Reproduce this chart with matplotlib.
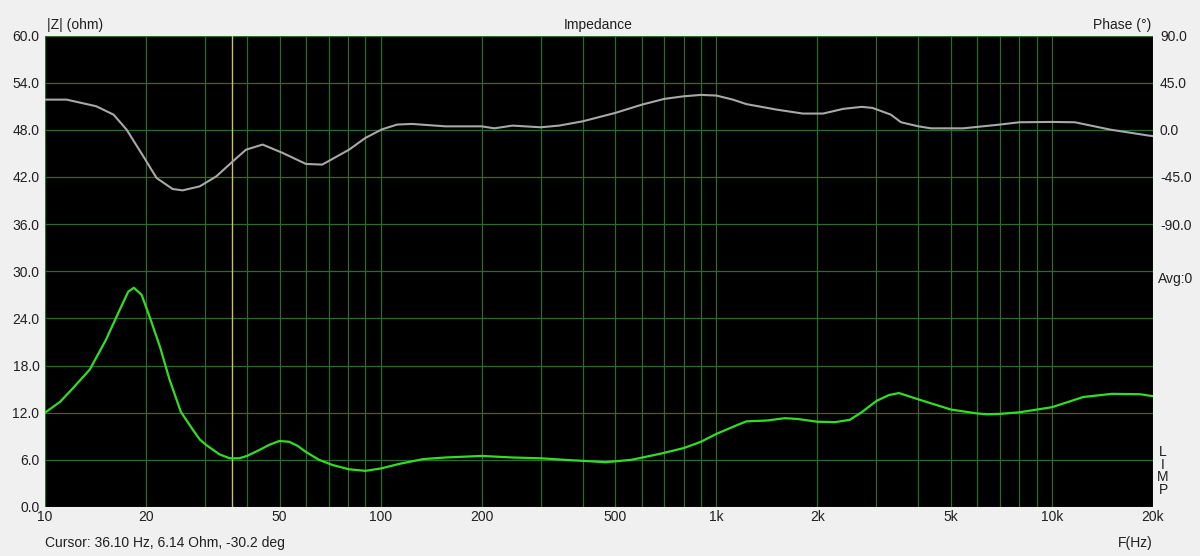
import matplotlib
matplotlib.use("Agg")
import matplotlib.pyplot as plt
from matplotlib.ticker import FixedLocator, FuncFormatter, NullLocator

plt.rcParams['font.family'] = ['Liberation Sans', 'DejaVu Sans']
plt.rcParams['font.size'] = 10

# impedance magnitude (ohm) vs frequency (Hz)
imp_f = [10, 11.1, 12.1, 13.6, 15.2, 16.7, 17.7, 18.4, 19.4, 20.5, 22.0, 23.5, 25.4,
         27.6, 28.9, 30.2, 33.1, 35.5, 37.9, 40, 43.5, 46.5, 49.9, 53.4, 56.5, 59.9,
         65.6, 71.8, 80.5, 90, 100, 114, 134, 156, 200, 247, 300, 354, 428, 468, 558,
         685, 800, 900, 1000, 1150, 1230, 1410, 1600, 1750, 2000, 2260, 2500, 2710,
         3000, 3270, 3500, 4000, 5000, 6000, 6400, 7000, 8000, 10000, 12400, 15100,
         18300, 20000]
imp_z = [12.0, 13.4, 15.1, 17.5, 21.3, 25.1, 27.4, 27.9, 27.0, 24.2, 20.4, 16.2, 12.1,
         9.8, 8.6, 7.9, 6.7, 6.2, 6.2, 6.5, 7.25, 7.9, 8.4, 8.3, 7.8, 7.0,
         6.0, 5.35, 4.8, 4.6, 4.9, 5.5, 6.1, 6.3, 6.5, 6.3, 6.2, 6.0, 5.8, 5.7, 6.0,
         6.8, 7.5, 8.3, 9.3, 10.4, 10.9, 11.0, 11.3, 11.2, 10.85, 10.8, 11.1, 12.05,
         13.5, 14.25, 14.5, 13.7, 12.4, 11.9, 11.8, 11.85, 12.05, 12.7, 14.0, 14.4,
         14.35, 14.1]

# phase (deg) vs frequency (Hz)
ph_f = [10, 11.6, 14.2, 16.0, 17.5, 19.6, 21.5, 24.0, 25.7, 28.9, 32.4, 36.3, 39.7,
        44.5, 51, 59.9, 67, 80.5, 90, 101, 112, 124, 156, 200, 218, 247, 300, 340,
        400, 500, 600, 700, 800, 900, 1000, 1120, 1230, 1510, 1810, 2080, 2390, 2710,
        2920, 3310, 3550, 4000, 4360, 5440, 6000, 7000, 8000, 10000, 11700, 14900,
        19400, 20000]
ph_d = [28.8, 28.8, 22.5, 14.5, 0.2, -25, -46, -56.5, -57.8, -54, -44.4, -30, -19,
        -14.1, -22, -32.6, -33.2, -19, -7.8, 0.5, 5.0, 5.6, 3.3, 3.3, 1.4, 4.0, 2.4, 4.0,
        8.1, 16.1, 24, 29.5, 32, 33.3, 32.7, 28.8, 24.5, 19.3, 15.5, 15.5, 20, 21.9,
        20.9, 14.5, 7.2, 3.3, 1.4, 1.4, 2.8, 5.0, 7.2, 7.5, 7.2, 0.2,
        -5.5, -6.0]

cursor_f = 36.1
z_ticks = [0, 6, 12, 18, 24, 30, 36, 42, 48, 54, 60]
ph_ticks = [90, 45, 0, -45, -90]
x_labels = {10: '10', 20: '20', 50: '50', 100: '100', 200: '200', 500: '500',
            1000: '1k', 2000: '2k', 5000: '5k', 10000: '10k', 20000: '20k'}

grid_f = [m * 10 ** d for d in range(1, 5) for m in range(1, 10) if m * 10 ** d <= 20000]

bg = '#f0f0f0'
grid_c = '#2e6a2e'

fig = plt.figure(figsize=(12, 5.56), dpi=100, facecolor=bg)
ax = fig.add_axes([45 / 1200, 1 - 507 / 556, 1108 / 1200, 471.5 / 556])
ax.set_facecolor('black')
ax.set_xscale('log')
ax.set_xlim(10, 20000)
ax.set_ylim(0, 60)

ax.xaxis.set_major_locator(FixedLocator(grid_f))
ax.xaxis.set_minor_locator(NullLocator())
ax.xaxis.set_major_formatter(FuncFormatter(lambda v, p: x_labels.get(int(round(v)), '')))
ax.set_yticks(z_ticks)
ax.set_yticklabels([f'{v:.1f}' for v in z_ticks])
ax.tick_params(axis='both', length=0, colors='#202020', labelsize=10)
ax.tick_params(axis='y', pad=4)
ax.tick_params(axis='x', pad=2)
ax.grid(True, color=grid_c, linewidth=0.9)
for s in ax.spines.values():
    s.set_visible(False)

ax.axvline(cursor_f, color='#c8c070', linewidth=1.0, zorder=3)
ax.plot(imp_f, imp_z, color='#33dd22', linewidth=1.6, zorder=5)

ax2 = ax.twinx()
ax2.set_ylim(-360, 90)
ax2.set_yticks(ph_ticks)
ax2.set_yticklabels([f'{v:.1f}' for v in ph_ticks])
ax2.tick_params(axis='y', length=0, colors='#202020', labelsize=10, pad=5)
for s in ax2.spines.values():
    s.set_visible(False)
ax2.plot(ph_f, ph_d, color='#a8a8a8', linewidth=1.5, zorder=4)

fig.text(47 / 1200, 1 - 25 / 556, '|Z| (ohm)', ha='left', va='center', color='#202020')
fig.text(598 / 1200, 1 - 25 / 556, 'Impedance', ha='center', va='center', color='#202020')
fig.text(1151 / 1200, 1 - 25 / 556, 'Phase (°)', ha='right', va='center', color='#202020')
fig.text(1158 / 1200, 1 - 279 / 556, 'Avg:0', ha='left', va='center', color='#202020')
fig.text(1163 / 1200, 1 - 471 / 556, 'L\nI\nM\nP', ha='center', va='center',
         color='#202020', linespacing=0.88)
fig.text(45 / 1200, 1 - 543 / 556, 'Cursor: 36.10 Hz, 6.14 Ohm, -30.2 deg',
         ha='left', va='center', color='#202020')
fig.text(1153 / 1200, 1 - 543 / 556, 'F(Hz)', ha='right', va='center', color='#202020')

fig.savefig('out.png', dpi=100, facecolor=bg)
